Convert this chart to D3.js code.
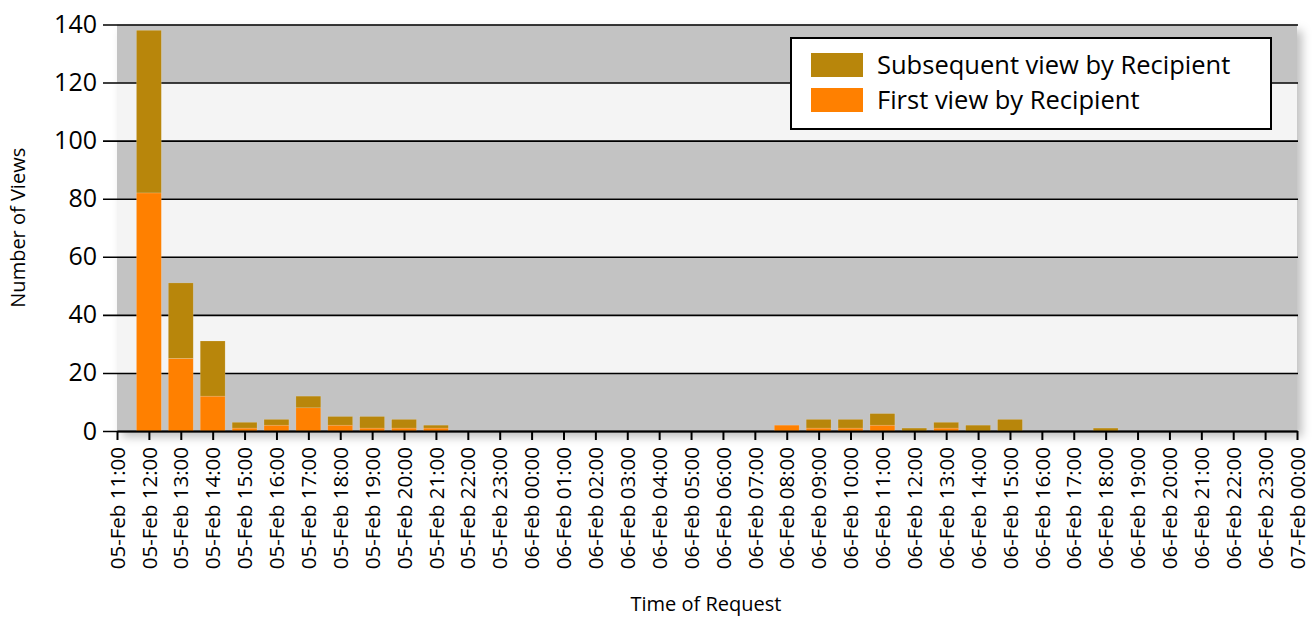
<!DOCTYPE html>
<html>
<head>
<meta charset="utf-8">
<script src="https://cdnjs.cloudflare.com/ajax/libs/d3/7.8.5/d3.min.js"></script>
<style>
  body { margin: 0; background: #fff; }
  svg text { font-family: "Open Sans", "Noto Sans", sans-serif; fill: #000; }
</style>
</head>
<body>
<div id="chart"></div>
<script>
// hourly buckets (UTC), bars are drawn centred on the hour
var hours = [
  "2016-02-05T12:00Z", "2016-02-05T13:00Z", "2016-02-05T14:00Z", "2016-02-05T15:00Z",
  "2016-02-05T16:00Z", "2016-02-05T17:00Z", "2016-02-05T18:00Z", "2016-02-05T19:00Z",
  "2016-02-05T20:00Z", "2016-02-05T21:00Z",
  "2016-02-06T08:00Z", "2016-02-06T09:00Z", "2016-02-06T10:00Z", "2016-02-06T11:00Z",
  "2016-02-06T12:00Z", "2016-02-06T13:00Z", "2016-02-06T14:00Z", "2016-02-06T15:00Z",
  "2016-02-06T18:00Z"
];
var firstViews      = [82, 25, 12, 1, 2, 8, 2, 1, 1, 1,  2, 1, 1, 2, 0, 1, 0, 0, 0];
var subsequentViews = [56, 26, 19, 2, 2, 4, 3, 4, 3, 1,  0, 3, 3, 4, 1, 2, 2, 4, 1];

var seriesNames = ["Subsequent view by Recipient", "First view by Recipient"];
var seriesColors = ["#b8860b", "#ff8000"];
var yTicks = [0, 20, 40, 60, 80, 100, 120, 140];
var xStart = "2016-02-05T11:00Z", xEnd = "2016-02-07T00:00Z";

var W = 1316, H = 619;
var margin = {top: 24.5, right: 19, bottom: 188, left: 117};
var width = W - margin.left - margin.right,
    height = H - margin.top - margin.bottom;

var svg = d3.select("#chart")
  .append("svg")
    .attr("width", W)
    .attr("height", H);

var defs = svg.append("defs");
var f = defs.append("filter").attr("id", "shadow")
  .attr("x", "-5%").attr("y", "-5%").attr("width", "115%").attr("height", "130%");
f.append("feDropShadow")
  .attr("dx", 5).attr("dy", 6).attr("stdDeviation", 5)
  .attr("flood-color", "#000").attr("flood-opacity", 0.25);

var g = svg.append("g")
  .attr("transform", "translate(" + margin.left + "," + margin.top + ")");

var x = d3.scaleUtc()
  .domain([new Date(xStart), new Date(xEnd)])
  .range([0, width]);

var y = d3.scaleLinear()
  .domain([0, 140])
  .range([height, 0]);

// plot background with shadow
g.append("rect")
  .attr("width", width).attr("height", height)
  .attr("fill", "#c3c3c3")
  .attr("filter", "url(#shadow)");

// alternating bands
g.selectAll(".band")
  .data(d3.pairs(yTicks).filter(function(d, i) { return i % 2 == 1; }))
  .enter().append("rect")
    .attr("class", "band")
    .attr("x", 0).attr("width", width)
    .attr("y", function(d) { return y(d[1]); })
    .attr("height", function(d) { return y(d[0]) - y(d[1]); })
    .attr("fill", "#f4f4f4");

// grid lines + y axis
var yAxis = g.append("g")
  .call(d3.axisLeft(y).tickValues(yTicks).tickSize(-width - 14).tickPadding(6))
  .attr("transform", "translate(-14,0)");
yAxis.select(".domain").remove();
yAxis.selectAll(".tick line").attr("stroke", "#000").attr("stroke-width", 1.6)
  .attr("x1", width + 14 + 1).attr("x2", 0);
yAxis.selectAll(".tick text").attr("font-size", 25).attr("x", -6);

// stacked bars
var data = hours.map(function(h, i) {
  return {t: new Date(h), first: firstViews[i], sub: subsequentViews[i]};
});
var stack = d3.stack().keys(["first", "sub"])(data);
var bw = x(new Date("2016-02-05T12:00Z")) - x(new Date(xStart));
var barW = bw * 0.78;

var layers = g.selectAll(".layer")
  .data(stack)
  .enter().append("g")
    .attr("class", "layer")
    .attr("fill", function(d, i) { return i == 0 ? seriesColors[1] : seriesColors[0]; });

layers.selectAll("rect")
  .data(function(d) { return d; })
  .enter().append("rect")
    .attr("x", function(d) { return x(d.data.t) - barW / 2; })
    .attr("width", barW)
    .attr("y", function(d) { return y(d[1]); })
    .attr("height", function(d) { return y(d[0]) - y(d[1]); })
    .attr("stroke", "rgba(255,255,255,0.25)")
    .attr("stroke-width", 0.6);

// x axis
var xAxis = g.append("g")
  .attr("transform", "translate(0," + height + ")")
  .call(d3.axisBottom(x)
    .ticks(d3.utcHour.every(1))
    .tickFormat(d3.utcFormat("%d-%b %H:%M"))
    .tickSize(9)
    .tickSizeOuter(0));
xAxis.select(".domain").attr("stroke", "#000").attr("stroke-width", 2);
xAxis.selectAll(".tick line").attr("stroke", "#000").attr("stroke-width", 2);
xAxis.selectAll(".tick text")
  .attr("font-size", 20.5)
  .attr("transform", "rotate(-90)")
  .attr("text-anchor", "end")
  .attr("x", -16)
  .attr("y", 0)
  .attr("dy", "0.35em");

// axis titles
svg.append("text")
  .attr("transform", "translate(25," + (margin.top + height / 2) + ") rotate(-90)")
  .attr("text-anchor", "middle")
  .attr("font-size", 20)
  .text("Number of Views");

svg.append("text")
  .attr("x", margin.left + width / 2 - 1)
  .attr("y", 611)
  .attr("text-anchor", "middle")
  .attr("font-size", 20)
  .text("Time of Request");

// legend
var lg = svg.append("g").attr("transform", "translate(791,38)");
lg.append("rect")
  .attr("width", 480).attr("height", 91)
  .attr("fill", "#fff").attr("stroke", "#000").attr("stroke-width", 2);
var items = lg.selectAll(".item")
  .data(seriesNames)
  .enter().append("g")
    .attr("class", "item")
    .attr("transform", function(d, i) { return "translate(20," + (15 + i * 35) + ")"; });
items.append("rect")
  .attr("width", 52).attr("height", 24)
  .attr("fill", function(d, i) { return seriesColors[i]; });
items.append("text")
  .attr("x", 66).attr("y", 12).attr("dy", "0.35em")
  .attr("font-size", 25.5)
  .text(function(d) { return d; });
</script>
</body>
</html>
